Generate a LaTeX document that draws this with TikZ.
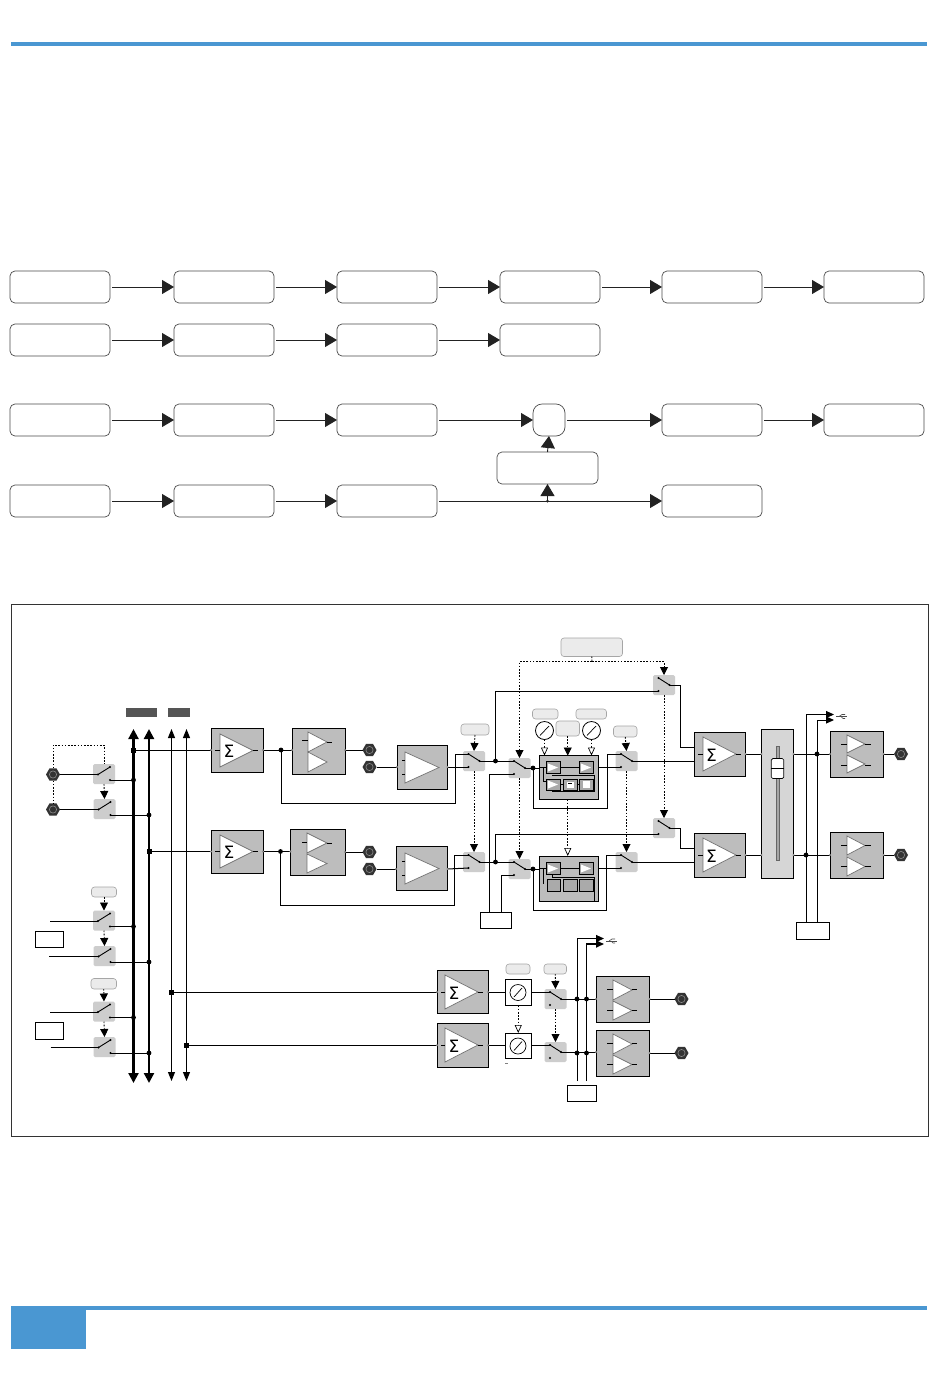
\documentclass[tikz,border=0pt]{standalone}
\usepackage{fontspec}
\usetikzlibrary{arrows.meta,shapes.geometric}
\newfontfamily\sumfont{DejaVu Sans}
\definecolor{blueb}{HTML}{4A97D2}
\definecolor{gb}{HTML}{BDBDBD}
\definecolor{sw}{HTML}{CDCDCD}
\definecolor{darkb}{HTML}{555555}
\definecolor{ink}{HTML}{222222}
\tikzset{
  flow/.style={draw=black!70,line width=.7pt,rounded corners=5pt,fill=white,inner sep=0pt,outer sep=0pt},
  flowline/.style={line width=.9pt,draw=ink,-{Triangle[length=12pt,width=14pt,color=ink]},shorten <=2pt},
  gbox/.style={draw=black,line width=1pt,fill=gb,inner sep=0pt,outer sep=0pt},
  wbox/.style={draw=black,line width=.9pt,fill=white,inner sep=0pt,outer sep=0pt},
  small/.style={draw=black,line width=1pt,fill=gb!90!black,inner sep=0pt,outer sep=0pt},
  swbox/.style={fill=sw,rounded corners=1.5pt,inner sep=0pt,outer sep=0pt},
  lab/.style={draw=black!35,line width=.6pt,fill=black!8,rounded corners=3pt,inner sep=0pt,outer sep=0pt},
  wire/.style={line width=1pt,draw=black},
  bus/.style={line width=2.2pt,draw=black,{Triangle[length=10pt,width=10pt]}-{Triangle[length=10pt,width=10pt]}},
  thinbus/.style={line width=1pt,draw=black,{Triangle[length=9pt,width=7pt]}-{Triangle[length=9pt,width=7pt]}},
  dots/.style={line width=.9pt,draw=black,dash pattern=on 1.6pt off 1.6pt},
  darr/.style={dots,-{Triangle[length=8pt,width=8pt]}},
  oarr/.style={dots,-{Triangle[open,fill=white,length=8pt,width=7pt,line width=.7pt]}},
  hexn/.style={regular polygon,regular polygon sides=6,fill=black!80,draw=none,minimum size=14pt,inner sep=0pt,outer sep=0pt},
  sumsym/.style={inner sep=0pt,font=\sumfont\fontsize{17}{17}\selectfont},
  usb/.style={line width=.6pt,draw=black!70},
}
% generic box by corners
\newcommand{\BX}[6]{\node[#1,minimum width={(#5-#3)*1pt},minimum height={(#6-#4)*1pt}] (#2) at ({(#3+#5)/2},{(#4+#6)/2}) {};}
% triangle
\newcommand{\TR}[4]{\draw[fill=white,draw=black!55,line width=.7pt] (#1,#2) -- (#4,{(#2+#3)/2}) -- (#1,#3) -- cycle;}
\newcommand{\STB}[3]{\draw[line width=.9pt] (#1,#3) -- (#2,#3);}
% switches: rising blade (left column), falling blade (others)
\newcommand{\SWL}[3]{\node[swbox,minimum width=22pt,minimum height=20pt] (#1) at (#2,#3) {};
  \coordinate (#1-i) at ({#2-6},{#3+.5}); \coordinate (#1-t) at ({#2+6},{#3-7}); \coordinate (#1-o) at ({#2+6},{#3+6});
  \draw[line width=.9pt] (#1-i) -- (#1-t);
  \fill (#1-i) circle (1.1); \fill (#1-t) circle (1.1); \fill (#1-o) circle (1.1);}
\newcommand{\SWR}[3]{\node[swbox,minimum width=22pt,minimum height=20pt] (#1) at (#2,#3) {};
  \coordinate (#1-a) at ({#2-5.5},{#3-7}); \coordinate (#1-b) at ({#2+5.5},{#3}); \coordinate (#1-c) at ({#2-5.5},{#3+6});
  \draw[line width=.9pt] (#1-a) -- (#1-b);
  \fill (#1-a) circle (1.1); \fill (#1-b) circle (1.1); \fill (#1-c) circle (1.1);}
\newcommand{\HX}[3]{\node[hexn] (#1) at (#2,#3) {}; \draw[black!45,line width=.6pt] (#2,#3) circle (3.6);}
\newcommand{\JD}[1]{\fill (#1) circle (2.4);}
\newcommand{\JS}[1]{\fill ([shift={(-2.5,-2.5)}]#1) rectangle ([shift={(2.5,2.5)}]#1);}
\newcommand{\PT}[1]{\fill[black!45] (#1) circle (1.1);}
\begin{document}
\begin{tikzpicture}[x=1pt,y=-1pt]
\useasboundingbox (0,0) rectangle (950,1387);
\fill[white] (0,0) rectangle (950,1387);
% header / footer
\node[fill=blueb,inner sep=0pt,minimum width=916pt,minimum height=4pt] (topbar) at (469,44) {};
\node[fill=blueb,inner sep=0pt,minimum width=916pt,minimum height=4pt] (botbar) at (469,1308) {};
\node[fill=blueb,inner sep=0pt,minimum width=75pt,minimum height=42pt] (pagebox) at (48.5,1328) {};
% flow rows
\BX{flow}{a1}{10}{271}{110}{303}\BX{flow}{a2}{174}{271}{274}{303}\BX{flow}{a3}{337}{271}{437}{303}
\BX{flow}{a4}{500}{271}{600}{303}\BX{flow}{a5}{662}{271}{762}{303}\BX{flow}{a6}{824}{271}{924}{303}
\BX{flow}{b1}{10}{324}{110}{356}\BX{flow}{b2}{174}{324}{274}{356}\BX{flow}{b3}{337}{324}{437}{356}\BX{flow}{b4}{500}{324}{600}{356}
\BX{flow}{c1}{10}{404}{110}{436}\BX{flow}{c2}{174}{404}{274}{436}\BX{flow}{c3}{337}{404}{437}{436}
\BX{flow,rounded corners=9pt}{c4}{533}{404}{565}{436}\BX{flow}{c5}{662}{404}{762}{436}\BX{flow}{c6}{824}{404}{924}{436}
\BX{flow}{m1}{497}{452}{598}{484}
\BX{flow}{d1}{10}{485}{110}{517}\BX{flow}{d2}{174}{485}{274}{517}\BX{flow}{d3}{337}{485}{437}{517}\BX{flow}{d5}{662}{485}{762}{517}
\draw[flowline] (a1)--(a2); \draw[flowline] (a2)--(a3); \draw[flowline] (a3)--(a4); \draw[flowline] (a4)--(a5); \draw[flowline] (a5)--(a6);
\draw[flowline] (b1)--(b2); \draw[flowline] (b2)--(b3); \draw[flowline] (b3)--(b4);
\draw[flowline] (c1)--(c2); \draw[flowline] (c2)--(c3); \draw[flowline] (c3)--(c4); \draw[flowline] (c4)--(c5); \draw[flowline] (c5)--(c6);
\draw[flowline] (d1)--(d2); \draw[flowline] (d2)--(d3);
\draw[flowline] (d3.east)--(d5.west);
\coordinate (dj) at (m1.south |- d3.east);
\draw[flowline,shorten <=0pt] (dj)--(m1.south); \fill[ink] (dj) circle (1.5);
\draw[flowline,shorten <=0pt] (m1.north)--(c4.south);
% frame
\node[draw=black!80,line width=.7pt,inner sep=0pt,minimum width=917pt,minimum height=532pt] (frame) at (469.5,870) {};
% bus labels
\node[fill=darkb,inner sep=0pt,minimum width=31pt,minimum height=9pt] (busl1) at (141.5,712.5) {};
\node[fill=darkb,inner sep=0pt,minimum width=22pt,minimum height=9pt] (busl2) at (179,712.5) {};
% buses
\coordinate (b1t) at (133.5,729);\coordinate (b1b) at (133.5,1083);
\coordinate (b2t) at (149,729);\coordinate (b2b) at (149,1083);
\coordinate (b3t) at (171.5,729);\coordinate (b3b) at (171.5,1081);
\coordinate (b4t) at (186.5,729);\coordinate (b4b) at (186.5,1081);
\draw[bus] (b1t)--(b1b); \draw[bus] (b2t)--(b2b); \draw[thinbus] (b3t)--(b3b); \draw[thinbus] (b4t)--(b4b);
% left input switches
\HX{h1}{53}{774.5}\HX{h2}{53}{809.5}
\SWL{l1}{104}{774}\SWL{l2}{104.5}{809}\SWL{l3}{104}{920.5}\SWL{l4}{104.5}{956}\SWL{l5}{104}{1011.5}\SWL{l6}{104.5}{1047}
\coordinate (dl) at (104,745);
\draw[dots] (h1.north) -- (h1.north |- dl) -- (dl) -- (l1.north);
\draw[dots] (h1.south) -- (h2.north);
\draw[darr] (l1.south) -- (l2.north);
\draw[wire] (h1) -- (l1-i); \draw[wire] (h2) -- (l2-i);
\coordinate (w3) at (50,921);\coordinate (w4) at (49,956.5);\coordinate (w5) at (50,1012);\coordinate (w6) at (50.5,1047.5);
\draw[wire] (w3)--(l3-i); \draw[wire] (w4)--(l4-i); \draw[wire] (w5)--(l5-i); \draw[wire] (w6)--(l6-i);
\draw[wire] (l1-o)--(l1-o -| b1t); \JD{l1-o -| b1t}
\draw[wire] (l2-o)--(l2-o -| b2t); \JD{l2-o -| b2t}
\draw[wire] (l3-o)--(l3-o -| b1t); \JD{l3-o -| b1t}
\draw[wire] (l4-o)--(l4-o -| b2t); \JD{l4-o -| b2t}
\draw[wire] (l5-o)--(l5-o -| b1t); \JD{l5-o -| b1t}
\draw[wire] (l6-o)--(l6-o -| b2t); \JD{l6-o -| b2t}
\BX{lab}{ll1}{91.5}{887}{116.5}{897}\BX{lab}{ll2}{91}{978.5}{116.5}{989}
\draw[darr] (ll1.south)--(l3.north); \draw[darr] (l3.south)--(l4.north);
\draw[darr] (ll2.south)--(l5.north); \draw[darr] (l5.south)--(l6.north);
\BX{wbox}{lb1}{35.5}{931}{63.5}{947.5}\BX{wbox}{lb2}{35.5}{1022.5}{63.5}{1039.5}
% upper chain
\BX{gbox}{s1}{211}{728}{263}{772}\TR{220}{734}{767}{253}\node[sumsym] (s1t) at (229,751) {Σ};
\BX{gbox}{s2}{211}{830}{263}{873}\TR{220}{835}{868}{253}\node[sumsym] (s2t) at (229,852) {Σ};
\STB{215}{220}{750.5}\STB{253}{258}{750.5}\STB{215}{220}{851.5}\STB{253}{258}{851.5}
\draw[wire] (s1.west -| b1t)--(s1.west); \JS{s1.west -| b1t}
\draw[wire] (s2.west -| b2t)--(s2.west); \JS{s2.west -| b2t}
\BX{gbox}{q1}{292}{728}{345}{774}\TR{308}{732}{752}{327}\TR{308}{752}{772}{327}\STB{302}{308}{740.5}\STB{327}{332}{742}
\BX{gbox}{q2}{290.5}{829}{345}{875}\TR{307}{833}{853}{327}\TR{307}{854}{873}{327}\STB{302}{307}{842}\STB{327}{332}{843}
\draw[wire] (s1.east)--(q1.west |- s1.east); \draw[wire] (s2.east)--(q2.west |- s2.east);
\coordinate (fj1) at (281,750);\coordinate (fj2) at (280.5,851.5);
\JD{fj1}\JD{fj2}
\HX{hq1}{369.5}{750}\HX{hq2}{369.5}{767}\HX{hq3}{369.5}{852}\HX{hq4}{369.5}{869}
\draw[wire] (hq1.west -| q1.east)--(hq1.west); \draw[wire] (hq3.west -| q2.east)--(hq3.west);
\BX{gbox}{u1}{397}{745}{447.5}{789.5}\TR{405}{752}{783}{439}\STB{402}{405}{760}\STB{402}{405}{774}
\BX{gbox}{u2}{396}{846}{447.5}{890}\TR{405}{853}{884}{439}\STB{402}{405}{861}\STB{402}{405}{875}
\draw[wire] (hq2)--(hq2 -| u1.west); \draw[wire] (hq4)--(hq4 -| u2.west);
\SWR{t1}{474}{761}\SWR{t2}{474}{862}
\SWR{v1}{519.5}{768}\SWR{v2}{519.5}{869}
\draw[wire] (fj1) -- (281,803) -- (455,803) -- (455,754) -- (t1-a);
\draw[wire] (fj2) -- (280.5,905) -- (454.5,905) -- (454.5,855) -- (t2-a);
\draw[wire] (hq2 -| u1.east)--(t1-c); \draw[wire] (hq4 -| u2.east)--(t2-c);
\BX{lab}{tl}{461}{724}{489}{735}
\draw[darr] (tl.south)--(t1.north); \draw[darr] (t1.south)--(t2.north);
\draw[wire] (t1-b)--(v1-a); \draw[wire] (t2-b)--(v2-a);
\coordinate (j1) at (495.5,761);\coordinate (j2) at (495.5,862);
\JD{j1}\JD{j2}
\BX{wbox}{xb}{480}{912}{511.5}{928}
\coordinate (xa1) at (489.5,912);\coordinate (xa2) at (501.5,912);
\draw[wire] (xa1) |- (v1-c); \draw[wire] (xa2) |- (v2-c);
% send switches
\SWR{y1}{664}{685}\SWR{y2}{664}{828}
\draw[wire] (j1) |- (y1-c); \draw[wire] (j2) |- (y2-c);
\BX{lab}{tt}{561}{638}{622.5}{656.5}
\coordinate (dj1) at (592,661.5);
\draw[dots] (tt.south)--(dj1);
\draw[darr] (dj1) -| (v1.north);
\draw[darr] (dj1) -| (y1.north);
\draw[darr] (y1.south)--(y2.north);
\draw[darr] (v1.south)--(v2.north);
% DSP boxes
\BX{gbox}{dsp1}{539}{755.5}{598}{799.5}
\BX{gbox}{dsp2}{539}{856}{598}{901}
\draw[wire] (v1-b)--(v1-b -| dsp1.west); \draw[wire] (v2-b)--(v2-b -| dsp2.west);
\coordinate (k1) at (533,768);\coordinate (k2) at (533,869);\JD{k1}\JD{k2}
\SWR{w1}{626.5}{761}\SWR{w2}{626.5}{862}
\draw[wire] (k1)--(533,808)--(607,808)--(607,754)--(w1-a);
\draw[wire] (k2)--(533,910)--(606,910)--(606,855)--(w2-a);
\draw[wire] (dsp1.east |- w1-c)--(w1-c); \draw[wire] (dsp2.east |- w2-c)--(w2-c);
\BX{lab}{wl}{613.5}{726}{637}{737}
\draw[darr] (wl.south)--(w1.north); \draw[darr] (w1.south)--(w2.north);
% dsp1 interior
\draw[wire] (543.5,767.5)--(543.5,781.5)--(547,781.5);
\draw[wire] (552,775.5)--(594.5,775.5)--(594.5,791)--(552,791);
\draw[wire] (539,767.5)--(580,767.5);
\BX{small}{e1}{546.5}{761.5}{560}{773.5}\BX{small}{e2}{579.5}{761.5}{593}{773.5}
\BX{small}{e3}{546.5}{779}{560}{790}\BX{small}{e4}{563.5}{779}{577}{790}\BX{small}{e5}{579.5}{779}{593}{790}
\draw[wire] (e1)--(e2);\draw[wire] (e3)--(e4);\draw[wire] (e4)--(e5);
\fill[white] (548,763.5)--(558,767.5)--(548,771.5)--cycle;
\fill[white] (581,763.5)--(591,767.5)--(581,771.5)--cycle;
\fill[white] (548,780.5)--(558,784.5)--(548,788.5)--cycle;
\fill[white] (567,781.5) rectangle (573.5,787.5);
\draw[line width=.9pt] (568,783.5)--(572,783.5);
\fill[white] (582.5,781) rectangle (590,788);
% dsp2 interior
\draw[wire] (543.5,868.5)--(543.5,884);
\draw[wire] (552,874.5)--(552,877)--(594.5,877)--(594.5,901);
\draw[wire] (539,868.5)--(580,868.5);
\BX{small}{f1}{546.5}{862}{560}{874.5}\BX{small}{f2}{579.5}{862}{593}{874.5}
\BX{small}{f3}{547.5}{879}{560.5}{891}\BX{small}{f4}{563}{879}{577}{891}\BX{small}{f5}{579.5}{879}{593}{891}
\draw[wire] (f1)--(f2);
\fill[white] (548,864.5)--(558,868.5)--(548,872.5)--cycle;
\fill[white] (581,864.5)--(591,868.5)--(581,872.5)--cycle;
% dsp controls
\BX{lab}{ml1}{532.5}{709}{558}{719}\BX{lab}{ml2}{576}{709}{606.5}{719}\BX{lab}{ml3}{556}{721}{579.5}{736}
\node[draw=black,line width=.8pt,fill=white,circle,minimum size=18pt,inner sep=0pt,outer sep=0pt] (g1) at (544.5,730.5) {};
\node[draw=black,line width=.8pt,fill=white,circle,minimum size=18pt,inner sep=0pt,outer sep=0pt] (g2) at (591.5,730.5) {};
\draw[line width=.7pt] (540,735.5)--(549,726); \draw[line width=.7pt] (587,735.5)--(596,726);
\draw[oarr] (g1.south)--(g1.south |- dsp1.north); \draw[oarr] (g2.south)--(g2.south |- dsp1.north);
\draw[darr] (ml3.south)--(ml3.south |- dsp1.north);
\draw[oarr] (dsp1.south -| ml3.south)--(dsp2.north -| ml3.south);
% output sums
\BX{gbox}{p1}{694}{732.5}{745.5}{776}\TR{703}{737}{771}{736}\node[sumsym] (p1t) at (711.5,755) {Σ};
\BX{gbox}{p2}{694}{833}{745.5}{877}\TR{703}{838}{872}{736}\node[sumsym] (p2t) at (711.5,856) {Σ};
\STB{698}{703}{754}\STB{736}{741}{754}\STB{698}{703}{855}\STB{736}{741}{855}
\draw[wire] (y1-b)--(680,685)--(680,747)--(694,747);
\draw[wire] (y2-b)--(680,828)--(680,848)--(694,848);
\draw[wire] (w1-b)--(w1-b -| p1.west); \draw[wire] (w2-b)--(w2-b -| p2.west);
% fader
\BX{gbox,fill=black!16}{fad}{761.5}{729}{793.5}{878.5}
\draw[draw=black!60,fill=black!35,line width=.5pt] (776,746) rectangle (779,860);
\node[draw=black,line width=.7pt,fill=white,rounded corners=1.5pt,minimum width=12.5pt,minimum height=20pt,inner sep=0pt,outer sep=0pt] (knob) at (777.5,768.5) {};
\draw[line width=.8pt] (knob.west)--(knob.east);
\draw[wire] (745.5,754)--(fad.west |- 745.5,754); \draw[wire] (745.5,855)--(fad.west |- 745.5,855);
% right output
\BX{gbox}{r1}{830}{731.5}{883.5}{777.5}\TR{847}{735}{753}{865}\TR{847}{755}{773}{865}\STB{841}{847}{744}\STB{865}{871}{744}\STB{841}{847}{765}\STB{865}{871}{765}
\BX{gbox}{r2}{830}{832.5}{883.5}{878.5}\TR{847}{836}{855}{865}\TR{847}{857}{876}{865}\STB{841}{847}{845}\STB{865}{871}{845}\STB{841}{847}{866}\STB{865}{871}{866}
\draw[wire] (793.5,754)--(830,754); \draw[wire] (793.5,855)--(830,855);
\HX{hr1}{901}{754}\HX{hr2}{901}{855}
\draw[wire] (hr1 -| r1.east)--(hr1.west); \draw[wire] (hr2 -| r2.east)--(hr2.west);
\BX{wbox}{ub}{796.5}{922}{829.5}{939.5}
\coordinate (ua1) at (806,922);\coordinate (ua2) at (817,922);\coordinate (ut1) at (834,714.5);\coordinate (ut2) at (834,720);
\draw[wire,-{Triangle[length=8pt,width=7pt]}] (ua1) |- (ut1);
\draw[wire,-{Triangle[length=8pt,width=7pt]}] (ua2) |- (ut2);
\JD{806,855}\JD{817,754}
\draw[usb] (836,716.5)--(847,716.5); \draw[usb] (839,716.5)--(842,714.5)--(845,714.5); \draw[usb] (841,716.5)--(843,718.5)--(845,718.5);
% bottom chain
\BX{gbox}{n1}{437}{970.5}{488}{1013.5}\TR{445}{975}{1009}{478}\node[sumsym] (n1t) at (454,993) {Σ};
\BX{gbox}{n2}{437}{1023}{488}{1067.5}\TR{445}{1028}{1062}{478}\node[sumsym] (n2t) at (454,1046) {Σ};
\STB{441}{445}{992}\STB{478}{483}{992}\STB{441}{445}{1045}\STB{478}{483}{1045}
\draw[wire] (n1.west -| b3t)--(n1.west); \JS{n1.west -| b3t}
\draw[wire] (n2.west -| b4t)--(n2.west); \JS{n2.west -| b4t}
\BX{wbox}{z1}{505}{979.5}{531.5}{1005.5}\BX{wbox}{z2}{505}{1033}{531.5}{1058.5}
\node[draw=black,line width=.7pt,circle,minimum size=16pt,inner sep=0pt] (zc1) at (518,992.5) {};
\node[draw=black,line width=.7pt,circle,minimum size=16pt,inner sep=0pt] (zc2) at (518,1046) {};
\draw[line width=.7pt] (514,997)--(522,988); \draw[line width=.7pt] (514,1050.5)--(522,1041.5);
\draw[wire] (n1.east)--(z1.west |- n1.east); \draw[wire] (n2.east)--(z2.west |- n2.east);
\draw[oarr] (z1.south)--(z2.north);
\fill[black!50] (504.5,1062.5) rectangle (507.5,1063.5);
\SWR{o1}{555.5}{999}\SWR{o2}{555.5}{1052}
\draw[wire] (o1-a -| z1.east)--(o1-a); \draw[wire] (o2-a -| z2.east)--(o2-a);
\BX{lab}{ol1}{506}{964}{530}{974}\BX{lab}{ol2}{544}{964}{566.5}{974}
\draw[darr] (ol2.south)--(o1.north); \draw[darr] (o1.south)--(o2.north);
\BX{gbox}{g3}{596}{976.5}{649.5}{1022.5}\TR{613}{980}{1000}{632}\TR{613}{1001}{1020}{632}\STB{607}{613}{989}\STB{632}{637}{989}\STB{607}{613}{1010}\STB{632}{637}{1010}
\BX{gbox}{g4}{596}{1030.5}{649.5}{1076.5}\TR{613}{1034}{1054}{632}\TR{613}{1055}{1074}{632}\STB{607}{613}{1043}\STB{632}{637}{1043}\STB{607}{613}{1064}\STB{632}{637}{1064}
\draw[wire] (o1-b)--(o1-b -| g3.west); \draw[wire] (o2-b)--(o2-b -| g4.west);
\HX{hg1}{681.5}{999}\HX{hg2}{681.5}{1053}
\draw[wire] (hg1 -| g3.east)--(hg1.west); \draw[wire] (hg2 -| g4.east)--(hg2.west);
\BX{wbox}{gb1}{567}{1085}{596}{1101}
\coordinate (gu1) at (577,1081);\coordinate (gu2) at (586.5,1081);\coordinate (gt1) at (604,938.5);\coordinate (gt2) at (604,944);\coordinate (gm) at (586.5,1000);
\draw[wire,-{Triangle[length=8pt,width=7pt]}] (gu1) |- (gt1);
\draw[wire] (gu2)--(gm);
\draw[line width=1.6pt,-{Triangle[length=8pt,width=7pt]}] (gm) |- (gt2);
\JD{577,999}\JD{586.5,999}\JD{577,1053}\JD{586.5,1053}
\draw[usb] (606,941)--(617,941); \draw[usb] (609,941)--(612,939)--(615,939); \draw[usb] (611,941)--(613,943)--(615,943);
% port dots on box edges
\PT{s1.west}\PT{s1.east}\PT{s2.west}\PT{s2.east}
\PT{q1.west |- s1.east}\PT{q2.west |- s2.east}\PT{q1.east |- hq1}\PT{q2.east |- hq3}
\PT{u1.west |- hq2}\PT{u1.east |- hq2}\PT{u2.west |- hq4}\PT{u2.east |- hq4}
\PT{p1.east |- 0,754}\PT{p2.east |- 0,855}\PT{fad.west |- 0,754}\PT{fad.west |- 0,855}\PT{fad.east |- 0,754}\PT{fad.east |- 0,855}
\PT{r1.west |- 0,754}\PT{r2.west |- 0,855}\PT{r1.east |- 0,754}\PT{r2.east |- 0,855}
\PT{n1.west}\PT{n1.east}\PT{n2.west}\PT{n2.east}
\PT{g3.west |- o1-b}\PT{g3.east |- hg1}\PT{g4.west |- o2-b}\PT{g4.east |- hg2}
\end{tikzpicture}
\end{document}
